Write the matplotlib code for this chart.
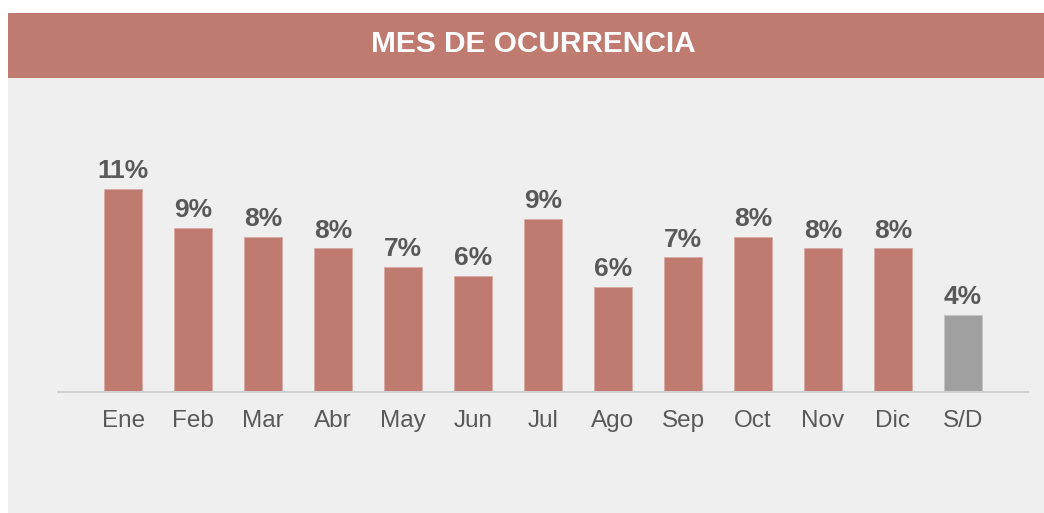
import matplotlib.pyplot as plt
from matplotlib.patches import Rectangle

# data
months = ["Ene", "Feb", "Mar", "Abr", "May", "Jun", "Jul", "Ago", "Sep", "Oct", "Nov", "Dic", "S/D"]
pct = [11.0, 8.9, 8.4, 7.8, 6.8, 6.3, 9.4, 5.7, 7.3, 8.4, 7.8, 7.8, 4.2]
labels = ["11%", "9%", "8%", "8%", "7%", "6%", "9%", "6%", "7%", "8%", "8%", "8%", "4%"]

W, H = 1044, 513
fig = plt.figure(figsize=(W / 100, H / 100), dpi=100)
fig.patch.set_facecolor("white")

# panel background and title band
fig.patches.append(Rectangle((8 / W, 0), 1 - 8 / W, (H - 78) / H,
                             transform=fig.transFigure, facecolor="#efefef", edgecolor="none", zorder=-2))
fig.patches.append(Rectangle((8 / W, (H - 78) / H), 1 - 8 / W, 65 / H,
                             transform=fig.transFigure, facecolor="#c07b71", edgecolor="none", zorder=-1))
fig.text(533 / W, (H - 44) / H, "MES DE OCURRENCIA", color="white", fontsize=21.5,
         fontweight="bold", ha="center", va="center", family="Liberation Sans")

ax = fig.add_axes([58 / W, (H - 392) / H, (1028 - 58) / W, 292 / H])
ax.set_facecolor("none")

colors = ["#c07b71"] * 12 + ["#a0a0a0"]
edges = ["#d9a9a2"] * 12 + ["#c4c4c4"]
x = range(len(months))
ax.bar(x, pct, width=0.54, color=colors, edgecolor=edges, linewidth=0.6, zorder=2)
ax.set_xlim(-0.93, 12.93)
ax.set_ylim(0, 292 / 18.45)

for i, (v, t) in enumerate(zip(pct, labels)):
    ax.annotate(t, (i, v), xytext=(0, 4), textcoords="offset points", ha="center", va="bottom",
                fontsize=19, fontweight="bold", color="#595959", family="Liberation Sans")

ax.set_xticks(list(x))
ax.set_xticklabels(months, fontsize=17.5, color="#595959", family="Liberation Sans")
ax.tick_params(axis="x", length=0, pad=13)
ax.set_yticks([])
for s in ["top", "left", "right"]:
    ax.spines[s].set_visible(False)
ax.spines["bottom"].set_color("#d0d0d0")
ax.spines["bottom"].set_linewidth(1.5)

fig.savefig("out.png", dpi=100)
